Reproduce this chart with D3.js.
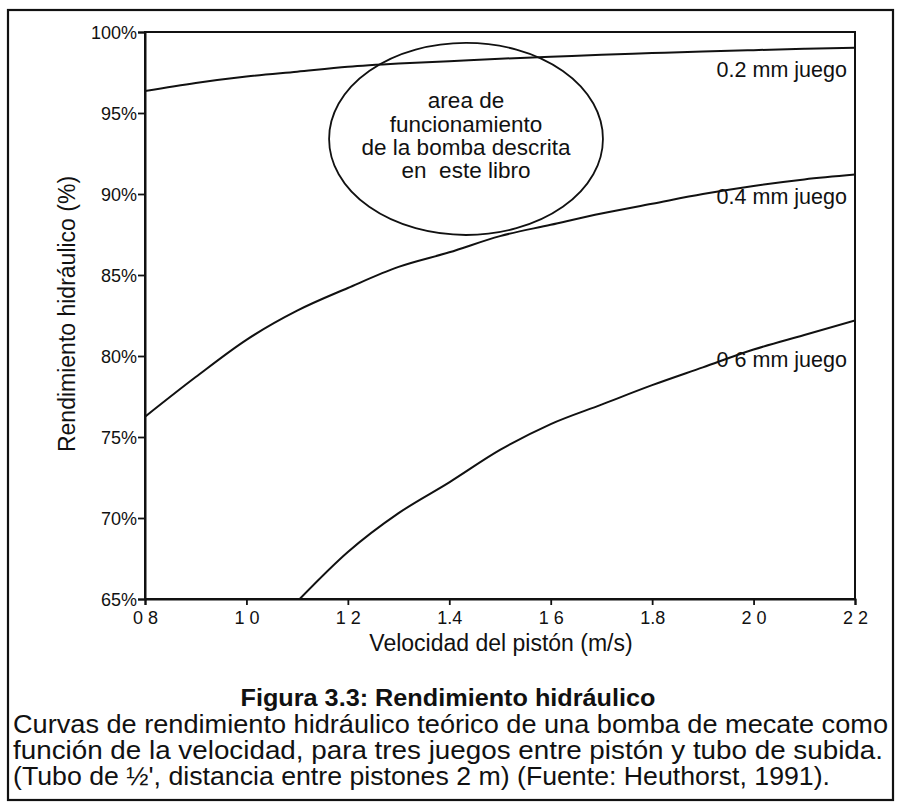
<!DOCTYPE html>
<html>
<head>
<meta charset="utf-8">
<script src="https://cdn.jsdelivr.net/npm/d3@7"></script>
<style>
    body { margin: 0; background: #fff; }
    text { font-family: "Liberation Sans", Arial, sans-serif; fill: #111; }
    .narrow { font-family: "Liberation Sans Narrow", "Arial Narrow", "Liberation Sans", sans-serif; }
</style>
</head>
<body>
<svg id="chart" width="900" height="805"></svg>
<script>
// velocidad del piston (m/s)
const velocidad = [0.8, 0.9, 1.0, 1.1, 1.2, 1.3, 1.4, 1.5, 1.6, 1.7, 1.8, 1.9, 2.0, 2.1, 2.2];
// rendimiento (%) para cada juego
const juego02 = [96.35, 96.85, 97.25, 97.55, 97.85, 98.05, 98.2, 98.35, 98.47, 98.6, 98.7, 98.8, 98.88, 98.96, 99.03];
const juego04 = [76.25, 78.7, 81.0, 82.8, 84.2, 85.5, 86.4, 87.4, 88.1, 88.8, 89.4, 90.0, 90.5, 90.9, 91.2];
const velocidad06 = [1.105, 1.2, 1.3, 1.4, 1.5, 1.6, 1.7, 1.8, 1.9, 2.0, 2.1, 2.2];
const juego06 = [65.0, 67.9, 70.3, 72.2, 74.2, 75.8, 77.0, 78.2, 79.3, 80.4, 81.3, 82.2];

const xTicks = [0.8, 1.0, 1.2, 1.4, 1.6, 1.8, 2.0, 2.2];
const xTickLabels = ['0 8', '1 0', '1 2', '1.4', '1 6', '1.8', '2 0', '2 2']; // as printed (scan)
const yTicks = [65, 70, 75, 80, 85, 90, 95, 100];

const curveNames = ['0.2 mm juego', '0.4 mm juego', '0 6 mm juego'];
const curveLabelAt = [[2.184, 97.22], [2.184, 89.4], [2.184, 79.35]];

// ellipse "area de funcionamiento" (data units)
const areaCentro = [1.433, 93.4];
const areaRadio = [0.27, 5.93];
const areaTexto = ['area de', 'funcionamiento', 'de la bomba descrita', 'en  este libro'];

const xTitle = 'Velocidad del pistón (m/s)';
const yTitle = 'Rendimiento hidráulico (%)';
const figTitle = 'Figura 3.3: Rendimiento hidráulico';
const caption = [
    'Curvas de rendimiento hidráulico teórico de una bomba de mecate como',
    'función de la velocidad, para tres juegos entre pistón y tubo de subida.',
    '(Tubo de ½\', distancia entre pistones 2 m) (Fuente: Heuthorst, 1991).'
];

const svg = d3.select('#chart');
const margin = {left: 145, top: 32, right: 45, bottom: 206};
const width = 900 - margin.left - margin.right, height = 805 - margin.top - margin.bottom;

// outer frame
svg.append('rect')
    .attr('x', 8).attr('y', 10).attr('width', 885).attr('height', 790)
    .attr('fill', 'none').attr('stroke', '#111').attr('stroke-width', 2.2);

const x = d3.scaleLinear().domain([0.8, 2.2]).range([0, width]);
const y = d3.scaleLinear().domain([65, 100]).range([height, 0]);

const g = svg.append('g').attr('transform', `translate(${margin.left},${margin.top})`);

g.append('clipPath').attr('id', 'clip')
    .append('rect').attr('width', width).attr('height', height);

// plot box
g.append('rect').attr('width', width).attr('height', height)
    .attr('fill', 'none').attr('stroke', '#111').attr('stroke-width', 2);

const xAxis = g.append('g').attr('transform', `translate(0,${height})`)
    .call(d3.axisBottom(x).tickValues(xTicks).tickSize(6).tickPadding(3)
        .tickFormat((d, i) => xTickLabels[i]));
const yAxis = g.append('g')
    .call(d3.axisLeft(y).tickValues(yTicks).tickSize(7).tickPadding(1)
        .tickFormat(d => d + '%'));
[xAxis, yAxis].forEach(ax => {
    ax.select('.domain').attr('stroke', '#111').attr('stroke-width', 2);
    ax.selectAll('.tick line').attr('stroke', '#111').attr('stroke-width', 1.8);
    ax.selectAll('.tick text').attr('fill', '#111')
        .style('font-family', '"Liberation Sans", Arial, sans-serif').style('font-size', '18px');
});
xAxis.selectAll('.tick text').attr('dy', '0.88em');
yAxis.selectAll('.tick text').attr('dy', '0.36em');

const line = d3.line().x(d => x(d[0])).y(d => y(d[1])).curve(d3.curveMonotoneX);
const series = [
    d3.zip(velocidad, juego02),
    d3.zip(velocidad, juego04),
    d3.zip(velocidad06, juego06)
];
g.append('g').attr('clip-path', 'url(#clip)')
    .selectAll('path').data(series).enter().append('path')
    .attr('d', line)
    .attr('fill', 'none').attr('stroke', '#111').attr('stroke-width', 2);

g.selectAll('.curve-label').data(curveNames).enter().append('text')
    .attr('class', 'curve-label')
    .attr('x', (d, i) => x(curveLabelAt[i][0]))
    .attr('y', (d, i) => y(curveLabelAt[i][1]))
    .attr('text-anchor', 'end').style('font-size', '21.5px')
    .text(d => d);

// area ellipse
g.append('ellipse')
    .attr('cx', x(areaCentro[0])).attr('cy', y(areaCentro[1]))
    .attr('rx', x(areaCentro[0] + areaRadio[0]) - x(areaCentro[0]))
    .attr('ry', y(areaCentro[1] - areaRadio[1]) - y(areaCentro[1]))
    .attr('fill', 'none').attr('stroke', '#111').attr('stroke-width', 1.8);
g.selectAll('.area-text').data(areaTexto).enter().append('text')
    .attr('class', 'area-text')
    .attr('x', x(areaCentro[0]))
    .attr('y', (d, i) => y(areaCentro[1]) + (i - 1.5) * 23.3 + 4.5)
    .attr('text-anchor', 'middle').style('font-size', '22.5px')
    .style('white-space', 'pre').attr('xml:space', 'preserve')
    .text(d => d);

// axis titles
svg.append('text')
    .attr('x', margin.left + width / 2 + 1).attr('y', 651)
    .attr('text-anchor', 'middle').style('font-size', '23px')
    .text(xTitle);
svg.append('text')
    .attr('transform', 'translate(75,314) rotate(-90)')
    .attr('text-anchor', 'middle').style('font-size', '23px')
    .text(yTitle);

// figure caption
svg.append('text')
    .attr('x', 448).attr('y', 706)
    .attr('text-anchor', 'middle').style('font-size', '23px').style('font-weight', 'bold')
    .attr('textLength', 415).attr('lengthAdjust', 'spacingAndGlyphs')
    .text(figTitle);
const captionWidth = [875, 870, 817];
svg.selectAll('.caption').data(caption).enter().append('text')
    .attr('class', 'caption narrow')
    .attr('x', 13).attr('y', (d, i) => 733 + i * 26)
    .style('font-size', '25px')
    .attr('textLength', (d, i) => captionWidth[i]).attr('lengthAdjust', 'spacingAndGlyphs')
    .text(d => d);
</script>
</body>
</html>
